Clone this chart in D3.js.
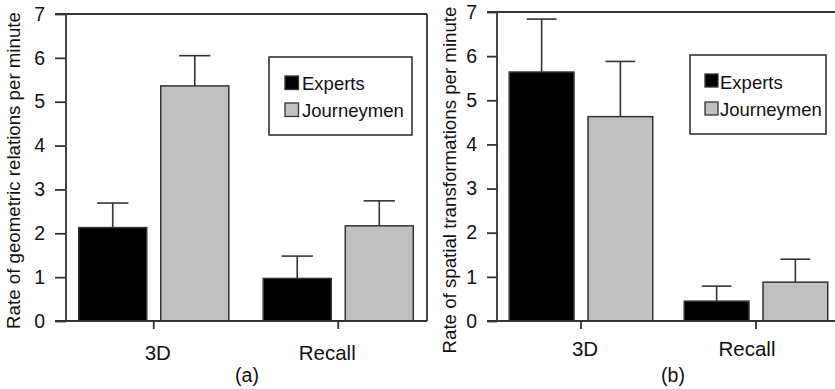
<!DOCTYPE html>
<html>
<head>
<meta charset="utf-8">
<script src="https://cdn.jsdelivr.net/npm/d3@7/dist/d3.min.js"></script>
<style>
  html, body { margin: 0; padding: 0; background: #fff; }
  svg { display: block; font-family: "Liberation Sans", Arial, Helvetica, sans-serif; }
</style>
</head>
<body>
<svg id="chart" width="835" height="389"></svg>
<script>
// ---- data ----
const categories = ["3D", "Recall"];
const seriesNames = ["Experts", "Journeymen"];
const yTicks = [0, 1, 2, 3, 4, 5, 6, 7];

// Panel (a): geometric relations
const geoExperts = [2.13, 0.97];
const geoExpertsErr = [2.69, 1.48];
const geoJourney = [5.36, 2.17];
const geoJourneyErr = [6.05, 2.74];

// Panel (b): spatial transformations
const spExperts = [5.64, 0.45];
const spExpertsErr = [6.84, 0.79];
const spJourney = [4.63, 0.88];
const spJourneyErr = [5.88, 1.40];

const panelTitles = ["(a)", "(b)"];
const yLabels = ["Rate of geometric relations per minute", "Rate of spatial transformations per minute"];

const colors = { "Experts": "#000000", "Journeymen": "#c0c0c0" };
const ink = "#333333";

const svg = d3.select("#chart");

const panels = [
  {
    values: { Experts: geoExperts, Journeymen: geoJourney },
    errs: { Experts: geoExpertsErr, Journeymen: geoJourneyErr },
    axisX: 66, top: 14, bottom: 321, frameRight: 427, tick: 11,
    xRange: [61.5, 430.5], inner: { pi: 0.171, po: 0.21 },
    labelDx: [4, -11], catBase: 360, titleX: 247, titleBase: 382,
    yLabelX: 20, yLabelY: 170.5,
    legend: { x: 269, y: 57, w: 143, h: 78, sw: 285, sy: [76, 103], tx: 302, ty: [90, 117], s: 13.5 },
    title: panelTitles[0], yLabel: yLabels[0]
  },
  {
    values: { Experts: spExperts, Journeymen: spJourney },
    errs: { Experts: spExpertsErr, Journeymen: spJourneyErr },
    axisX: 497, top: 12, bottom: 321, frameRight: null, tick: 10,
    xRange: [493.5, 843.5], inner: { pi: 0.178, po: 0.2 },
    labelDx: [4, -9], catBase: 356, titleX: 673, titleBase: 382,
    yLabelX: 456, yLabelY: 180,
    legend: { x: 690, y: 55, w: 136, h: 79, sw: 705, sy: [74, 102], tx: 720, ty: [89, 116], s: 13 },
    title: panelTitles[1], yLabel: yLabels[1]
  }
];

panels.forEach(p => {
  const g = svg.append("g");
  const y = d3.scaleLinear().domain([0, 7]).range([p.bottom, p.top]);
  const x0 = d3.scaleBand().domain(categories).range(p.xRange).padding(0);
  const x1 = d3.scaleBand().domain(seriesNames).range([0, x0.bandwidth()])
    .paddingInner(p.inner.pi).paddingOuter(p.inner.po);

  // bars
  seriesNames.forEach(s => {
    const vals = p.values[s];
    g.selectAll(null).data(categories).enter().append("rect")
      .attr("x", (c) => x0(c) + x1(s))
      .attr("y", (c, i) => y(vals[i]))
      .attr("width", x1.bandwidth())
      .attr("height", (c, i) => y(0) - y(vals[i]))
      .attr("fill", colors[s])
      .attr("stroke", ink)
      .attr("stroke-width", 1.5);

    // error bars
    const errs = p.errs[s];
    const cap = x1.bandwidth() * 0.46;
    categories.forEach((c, i) => {
      const cx = x0(c) + x1(s) + x1.bandwidth() / 2;
      g.append("line").attr("x1", cx).attr("x2", cx)
        .attr("y1", y(vals[i])).attr("y2", y(errs[i]))
        .attr("stroke", ink).attr("stroke-width", 1.6);
      g.append("line").attr("x1", cx - cap / 2).attr("x2", cx + cap / 2)
        .attr("y1", y(errs[i])).attr("y2", y(errs[i]))
        .attr("stroke", ink).attr("stroke-width", 1.6);
    });
  });

  // y axis
  const yAxis = d3.axisLeft(y).tickValues(yTicks).tickFormat(d3.format("d"))
    .tickSize(p.tick).tickSizeOuter(0).tickPadding(10);
  const ya = g.append("g").attr("transform", `translate(${p.axisX},0)`).call(yAxis);
  ya.select(".domain").remove();
  ya.selectAll(".tick line").attr("stroke", ink).attr("stroke-width", 1.8);
  ya.selectAll(".tick text").attr("font-size", 19.5).attr("fill", "#111")
    .attr("font-family", "Liberation Sans, Arial, sans-serif");
  g.append("line").attr("x1", p.axisX).attr("x2", p.axisX)
    .attr("y1", p.top).attr("y2", p.bottom).attr("stroke", ink).attr("stroke-width", 1.8);

  // frame top / right
  const rightEnd = p.frameRight !== null ? p.frameRight : 835;
  g.append("line").attr("x1", p.axisX - p.tick).attr("x2", rightEnd)
    .attr("y1", p.top).attr("y2", p.top).attr("stroke", ink).attr("stroke-width", 1.8);
  if (p.frameRight !== null) {
    g.append("line").attr("x1", p.frameRight).attr("x2", p.frameRight)
      .attr("y1", p.top).attr("y2", p.bottom).attr("stroke", ink).attr("stroke-width", 1.8);
  }

  // x axis
  const xAxis = d3.axisBottom(x0).tickSize(8).tickSizeOuter(0).tickPadding(14);
  const xa = g.append("g").attr("transform", `translate(0,${p.bottom})`).call(xAxis);
  xa.select(".domain").remove();
  xa.selectAll(".tick line").attr("stroke", ink).attr("stroke-width", 1.8);
  xa.selectAll(".tick text")
    .attr("font-size", 20.5).attr("fill", "#111")
    .attr("font-family", "Liberation Sans, Arial, sans-serif")
    .attr("dy", null)
    .attr("y", p.catBase - p.bottom)
    .attr("dx", (d, i) => p.labelDx[i]);
  g.append("line").attr("x1", p.axisX - p.tick).attr("x2", rightEnd)
    .attr("y1", p.bottom).attr("y2", p.bottom).attr("stroke", ink).attr("stroke-width", 1.8);

  // panel title
  g.append("text").attr("x", p.titleX).attr("y", p.titleBase)
    .attr("text-anchor", "middle").attr("font-size", 19.5).attr("fill", "#111")
    .text(p.title);

  // y label
  g.append("text")
    .attr("transform", `translate(${p.yLabelX},${p.yLabelY}) rotate(-90)`)
    .attr("text-anchor", "middle").attr("font-size", 18.7).attr("fill", "#111")
    .text(p.yLabel);

  // legend
  const L = p.legend;
  g.append("rect").attr("x", L.x).attr("y", L.y).attr("width", L.w).attr("height", L.h)
    .attr("fill", "#fff").attr("stroke", ink).attr("stroke-width", 1.6);
  seriesNames.forEach((s, i) => {
    g.append("rect").attr("x", L.sw).attr("y", L.sy[i]).attr("width", L.s).attr("height", L.s)
      .attr("fill", colors[s]).attr("stroke", ink).attr("stroke-width", 1.3);
    g.append("text").attr("x", L.tx).attr("y", L.ty[i])
      .attr("font-size", 18.5).attr("fill", "#111").text(s);
  });
});
</script>
</body>
</html>
